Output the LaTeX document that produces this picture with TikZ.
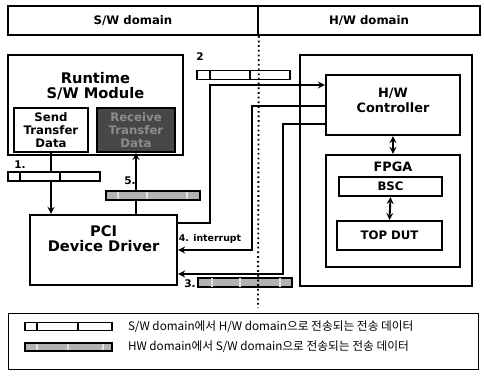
\documentclass[tikz,border=0pt]{standalone}
\usepackage{fontspec}
\setsansfont{DejaVu Sans}
\newfontfamily\krfont{Noto Sans CJK KR}
\usetikzlibrary{positioning}
\begin{document}
\begin{tikzpicture}[x=0.03cm, y=-0.03cm, >=stealth,
    box/.style={draw, line width=2pt, fill=white, inner sep=0pt},
    lbl/.style={font=\sffamily\bfseries\fontsize{11}{12.5}\selectfont, align=center},
    biglbl/.style={font=\sffamily\bfseries\fontsize{12.5}{13.5}\selectfont, align=center},
    small/.style={font=\sffamily\bfseries\fontsize{10}{11}\selectfont, align=center},
    num/.style={font=\sffamily\bfseries\fontsize{9}{10}\selectfont, inner sep=1pt},
    wbar/.style={draw, line width=0.9pt, fill=white, minimum width=2.8cm, minimum height=0.27cm, inner sep=0pt},
    gbar/.style={wbar, fill=gray!60},
    conn/.style={line width=1.6pt}]
    \useasboundingbox (0,0) rectangle (484,376);

    % Header
    \node[box, line width=1.4pt, minimum width=7.5cm, minimum height=0.87cm, font=\sffamily\bfseries\fontsize{10}{12}\selectfont] (swhead) at (133,20.5) {S/W domain};
    \node[box, line width=1.4pt, minimum width=6.66cm, minimum height=0.87cm, font=\sffamily\bfseries\fontsize{10}{12}\selectfont] (hwhead) at (369,20.5) {H/W domain};

    % S/W side
    \node[box, minimum width=5.25cm, minimum height=3cm,
        label={[biglbl, anchor=north, yshift=-0.42cm]north:{Runtime\\S/W Module}}] (runtime) at (95.5,105) {};
    \node[box, line width=1.6pt, minimum width=2.22cm, minimum height=1.32cm, small] (sendbox) at (51,130) {Send\\Transfer\\Data};
    \node[box, line width=1.6pt, fill=black!72, text=black!45, minimum width=2.34cm, minimum height=1.32cm, small] (recvbox) at (136,130) {Receive\\Transfer\\Data};
    \node[box, minimum width=4.41cm, minimum height=2.1cm,
        label={[biglbl, anchor=north, yshift=-0.22cm]north:{PCI\\Device Driver}}] (pci) at (103.5,250) {};

    % H/W side
    \node[box, minimum width=5.16cm, minimum height=6.93cm] (hwbox) at (386,170.5) {};
    \node[box, minimum width=4.02cm, minimum height=1.8cm,
        label={[lbl, anchor=north, yshift=-0.3cm]north:{H/W\\Controller}}] (hwctrl) at (393,105) {};
    \node[box, minimum width=4.02cm, minimum height=3.36cm,
        label={[lbl, anchor=north, yshift=-0.12cm]north:{FPGA}}] (fpga) at (393,211) {};
    \node[box, line width=1.8pt, minimum width=3.09cm, minimum height=0.57cm, small] (bsc) at (390.5,186.5) {BSC};
    \node[box, line width=1.8pt, minimum width=3.15cm, minimum height=0.87cm, small] (topdut) at (389.5,235.5) {TOP DUT};

    % Connectors
    \coordinate (ya) at (0,223);
    \coordinate (kneea) at (210,85);
    \coordinate (kneeb) at (252,106);
    \coordinate (kneec) at (283,124);
    \coordinate (yc) at (0,274);
    \draw[conn, ->] (sendbox.south) -- (sendbox.south |- pci.north);
    \draw[conn, ->] (pci.north -| recvbox.south) -- (recvbox.south);
    \draw[conn, ->] (pci.east |- ya) -| (kneea) -- (hwctrl.west |- kneea);
    \draw[conn, ->] (hwctrl.west |- kneeb) -- (kneeb) |- (pci.east);
    \draw[conn, ->] (hwctrl.west |- kneec) -- (kneec) |- (pci.east |- yc);
    \draw[conn, <->] (hwctrl.south) -- (fpga.north);
    \draw[conn, <->] (bsc.south) -- (topdut.north);

    % Transfer data
    \node[wbar, minimum width=2.76cm] (barone) at (54,176.5) {};
    \foreach \x in {20, 60} {
        \draw[line width=0.9pt] (\x,172) -- (\x,181);
    }
    \node[wbar, minimum width=2.79cm] (bartwo) at (243.5,75) {};
    \foreach \x in {210, 250} {
        \draw[line width=0.9pt] (\x,70) -- (\x,80);
    }
    \node[gbar, minimum width=2.82cm] (barfive) at (153,195.5) {};
    \foreach \x in {118, 147, 187} {
        \draw[gray!25, line width=1.2pt] (\x,192) -- (\x,199);
    }
    \node[gbar, minimum width=2.82cm] (barthree) at (245,282.5) {};
    \foreach \x in {212, 240, 280} {
        \draw[gray!25, line width=1.2pt] (\x,278) -- (\x,287);
    }
    \node[num] (numone) at (20,165) {1.};
    \node[num] (numtwo) at (200,57) {2};
    \node[num] (numthree) at (190,284) {3.};
    \node[num] (numfive) at (130,181) {5.};
    \node[num, font=\sffamily\bfseries\fontsize{8}{9}\selectfont] (intlbl) at (210,239) {4. interrupt};

    % Domain border
    \draw[line width=1.6pt, dash pattern=on 1.5pt off 2.5pt] (swhead.south east) -- (258,308);

    % Legend
    \node[draw, line width=0.8pt, minimum width=14.1cm, minimum height=1.68cm] (legend) at (243,341) {};
    \node[wbar, minimum width=2.61cm, minimum height=0.22cm] (legwbar) at (68.5,326.5) {};
    \foreach \x in {37, 78} {
        \draw[line width=0.9pt] (\x,323) -- (\x,330);
    }
    \node[gbar, minimum width=2.61cm, minimum height=0.24cm] (leggbar) at (68.5,347) {};
    \foreach \x in {37, 68, 103} {
        \draw[gray!25, line width=1.2pt] (\x,344) -- (\x,350);
    }
    \node[font=\krfont\fontsize{10}{11}\selectfont, right=0.34cm of legwbar] (legwtxt) {S/W domain에서 H/W domain으로 전송되는 전송 데이터};
    \node[font=\krfont\fontsize{10}{11}\selectfont, right=0.34cm of leggbar] (leggtxt) {HW domain에서 S/W domain으로 전송되는 전송 데이터};
\end{tikzpicture}
\end{document}
